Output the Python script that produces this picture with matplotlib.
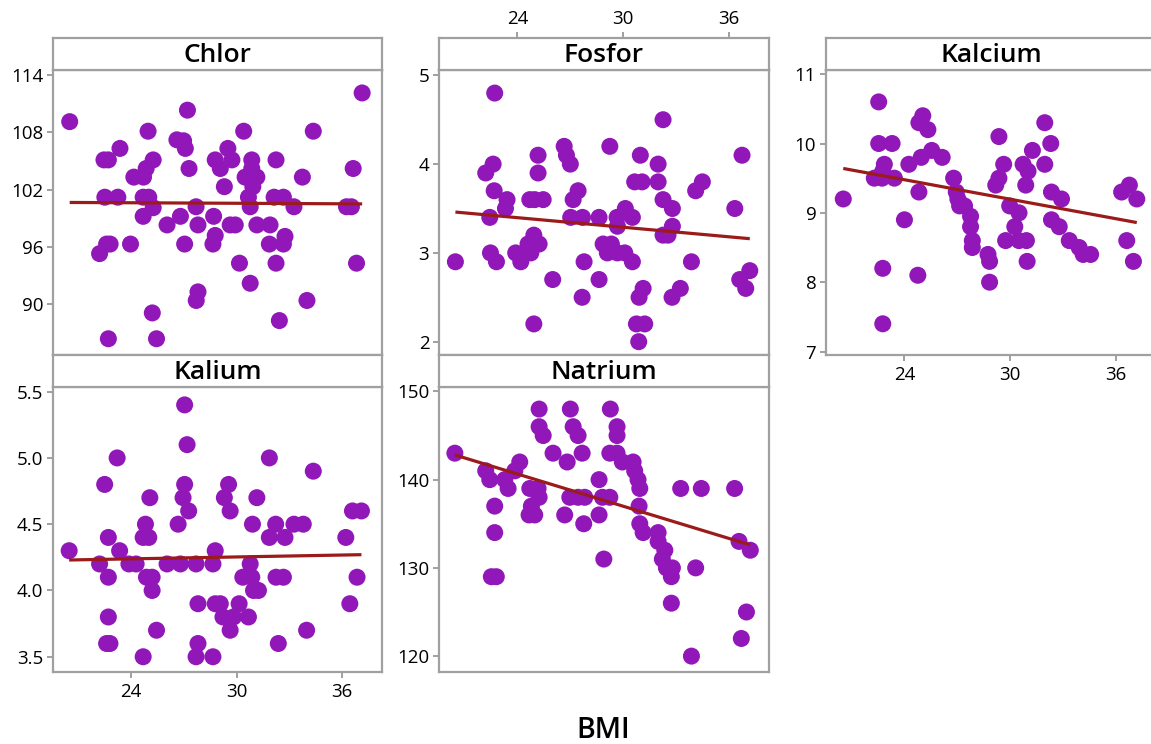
import numpy as np
import matplotlib
matplotlib.use("Agg")
import matplotlib.pyplot as plt

plt.rcParams['font.family'] = ['Open Sans', 'DejaVu Sans']

# ---------------- data ----------------
chlor_bmi = [20.5, 22.2, 22.45, 22.7, 22.5, 22.6, 22.8, 22.7, 23.36, 23.24, 23.96, 24.15, 24.7, 24.85,
             24.96, 25.25, 24.68, 25.0, 24.68, 25.25, 25.2, 25.44, 26.04, 26.6, 26.98, 27.08, 26.8,
             27.04, 27.2, 27.29, 27.69, 27.8, 27.8, 27.7, 28.69, 28.78, 28.65, 28.78, 29.07, 29.3,
             29.5, 29.73, 29.63, 29.92, 30.16, 30.4, 30.48, 30.67, 30.77, 30.86, 30.86, 30.92, 31.15,
             31.15, 30.77, 31.9, 31.86, 32.24, 32.24, 32.13, 32.66, 32.43, 32.75, 32.66, 33.26, 33.74,
             34.0, 34.36, 36.25, 36.53, 36.63, 36.82, 37.14]
chlor_val = [109.1, 95.3, 105.1, 105.1, 101.2, 96.3, 96.3, 86.4, 106.3, 101.2, 96.3, 103.3, 103.3, 104.2,
             108.1, 105.1, 101.2, 101.2, 99.2, 100.1, 89.1, 86.4, 98.3, 107.2, 107.1, 106.3, 99.2,
             96.3, 110.3, 104.2, 100.2, 98.3, 91.3, 90.4, 99.2, 97.2, 96.3, 105.1, 104.2, 102.3,
             106.3, 105.1, 98.3, 98.3, 94.3, 108.1, 103.3, 101.2, 100.2, 105.1, 104.2, 102.3, 103.3,
             98.3, 92.2, 98.3, 96.3, 105.1, 94.3, 101.2, 101.2, 88.3, 97.1, 96.3, 100.2, 103.3,
             90.4, 108.1, 100.2, 100.2, 104.2, 94.3, 112.1]

fosfor_bmi = [20.48, 22.2, 22.62, 22.71, 22.68, 22.43, 22.47, 22.81, 23.41, 23.32, 23.9, 24.19, 24.7,
              24.98, 25.46, 25.17, 25.17, 24.93, 24.6, 25.23, 24.76, 24.93, 26.0, 26.65, 26.78, 27.0,
              27.44, 27.16, 27.02, 27.69, 27.78, 27.67, 28.63, 28.63, 28.86, 29.33, 29.1, 29.24,
              29.65, 29.67, 29.67, 30.09, 30.12, 30.52, 30.52, 30.65, 31.07, 30.97, 30.9, 31.13,
              30.75, 31.22, 30.88, 31.98, 31.98, 32.26, 32.26, 32.79, 32.79, 32.26, 32.54, 32.77,
              33.24, 33.87, 34.11, 34.49, 36.33, 36.74, 36.61, 36.95, 37.18]
fosfor_val = [2.9, 3.9, 4.0, 4.8, 3.7, 3.4, 3.0, 2.9, 3.6, 3.5, 3.0, 2.9, 3.6,
              3.6, 3.6, 4.1, 3.9, 3.2, 3.1, 3.1, 3.0, 2.2, 2.7, 4.2, 4.1, 4.0,
              3.7, 3.6, 3.4, 3.4, 2.9, 2.5, 3.4, 2.7, 3.1, 3.1, 3.0, 4.2,
              3.4, 3.3, 3.0, 3.0, 3.5, 3.4, 2.9, 3.8, 3.8, 4.1, 2.5, 2.6,
              2.2, 2.2, 2.0, 4.0, 3.8, 4.5, 3.6, 3.5, 3.3, 3.2, 3.2, 2.5,
              2.6, 2.9, 3.7, 3.8, 3.5, 4.1, 2.7, 2.6, 2.8]

kalcium_bmi = [20.53, 22.54, 22.54, 23.3, 22.29, 22.73, 22.86, 22.77, 23.43, 22.77, 22.77, 24.0, 24.25,
               24.82, 25.04, 25.33, 24.95, 25.55, 24.82, 24.76, 26.14, 26.79, 26.94, 27.03, 27.13,
               27.41, 27.75, 27.75, 27.85, 27.85, 28.74, 28.83, 28.83, 29.18, 29.36, 29.36, 29.63,
               29.74, 29.97, 30.26, 30.5, 30.5, 30.92, 30.73, 31.01, 30.88, 30.96, 31.26, 31.96,
               32.3, 31.96, 32.34, 32.91, 32.34, 32.78, 33.35, 33.91, 34.14, 34.56, 36.32, 36.76,
               36.61, 37.18, 36.99]
kalcium_val = [9.2, 10.6, 10.0, 10.0, 9.5, 9.5, 9.7, 9.6, 9.5, 8.2, 7.4, 8.9, 9.7,
               10.3, 10.4, 10.2, 9.8, 9.9, 9.3, 8.1, 9.8, 9.5, 9.3, 9.2, 9.1,
               9.1, 8.95, 8.8, 8.6, 8.5, 8.4, 8.3, 8.0, 9.4, 9.5, 10.1, 9.7,
               8.6, 9.1, 8.8, 9.0, 8.6, 8.6, 9.7, 9.6, 9.4, 8.3, 9.9, 10.3,
               10.0, 9.7, 9.3, 9.2, 8.9, 8.8, 8.6, 8.5, 8.4, 8.4, 9.3, 9.4,
               8.6, 9.2, 8.3]

kalium_bmi = [20.47, 22.2, 22.49, 22.7, 22.7, 22.7, 22.6, 22.79, 23.2, 23.34, 23.87, 24.28, 24.68, 24.81,
              24.68, 25.0, 25.06, 24.87, 25.19, 25.19, 25.44, 26.04, 26.67, 26.8, 26.95, 27.04, 27.18,
              27.04, 27.27, 27.69, 27.8, 27.8, 27.69, 28.65, 28.65, 28.78, 28.78, 29.07, 29.22, 29.63,
              29.82, 29.3, 29.54, 29.63, 30.14, 30.35, 30.67, 30.77, 30.86, 30.96, 31.24, 30.9, 31.15,
              31.86, 31.86, 32.22, 32.24, 32.66, 32.75, 32.37, 33.26, 33.79, 33.98, 34.36, 36.21,
              36.44, 36.59, 37.1, 36.85]
kalium_val = [4.3, 4.2, 4.8, 4.4, 4.1, 3.8, 3.6, 3.6, 5.0, 4.3, 4.2, 4.2, 3.5, 4.5,
              4.4, 4.4, 4.7, 4.1, 4.1, 4.0, 3.7, 4.2, 4.5, 4.2, 4.7, 4.8, 5.1,
              5.4, 4.6, 4.2, 3.9, 3.6, 3.5, 3.5, 4.2, 4.3, 3.9, 3.9, 3.8, 3.7,
              3.8, 4.7, 4.8, 4.6, 3.9, 4.1, 3.8, 4.2, 4.1, 4.0, 4.0, 4.5, 4.7,
              5.0, 4.4, 4.5, 4.1, 4.1, 4.4, 3.6, 4.5, 4.5, 3.7, 4.9, 4.4,
              3.9, 4.6, 4.6, 4.1]

natrium_bmi = [20.45, 22.2, 22.43, 22.71, 22.71, 22.52, 22.8, 23.28, 23.47, 23.85, 24.13, 24.7, 25.17,
               25.23, 24.79, 24.66, 24.98, 25.23, 25.23, 25.46, 26.02, 26.68, 26.82, 27.0, 27.16,
               27.44, 27.67, 26.97, 27.44, 27.82, 27.76, 28.63, 28.63, 28.82, 29.24, 28.9, 29.27,
               29.65, 29.65, 29.24, 29.65, 29.95, 30.56, 30.65, 30.84, 30.94, 30.9, 30.94, 31.13,
               31.98, 31.98, 32.36, 32.22, 32.45, 32.79, 32.73, 32.73, 33.26, 34.11, 33.87, 34.43,
               36.32, 36.57, 37.21, 36.99, 36.7]
natrium_val = [143, 141, 140, 137, 134, 129, 129, 140, 139, 141, 142, 139, 139,
               138, 137, 136, 136, 148, 146, 145, 143, 136, 142, 148, 146,
               145, 143, 138, 138, 138, 135, 140, 136, 138, 138, 131, 148,
               146, 145, 143, 143, 142, 142, 141, 140, 139, 137, 135, 134,
               134, 133, 132, 131, 130, 130, 129, 126, 139, 130, 120, 139,
               139, 133, 132, 125, 122]

# regression lines: value at the lowest and highest BMI
fit_start = [100.65, 3.46, 9.64, 4.23, 142.8]
fit_end = [100.5, 3.16, 8.86, 4.27, 132.6]

panel_names = ["Chlor", "Fosfor", "Kalcium", "Kalium", "Natrium"]
panel_x = [chlor_bmi, fosfor_bmi, kalcium_bmi, kalium_bmi, natrium_bmi]
panel_y = [chlor_val, fosfor_val, kalcium_val, kalium_val, natrium_val]
panel_ylim = [(84.7, 114.5), (1.85, 5.06), (6.95, 11.06), (3.385, 5.535), (118.2, 150.5)]
panel_yticks = [[90, 96, 102, 108, 114], [2, 3, 4, 5], [7, 8, 9, 10, 11],
                [3.5, 4.0, 4.5, 5.0, 5.5], [120, 130, 140, 150]]
panel_yfmt = ["{:.0f}", "{:.0f}", "{:.0f}", "{:.1f}", "{:.0f}"]
panel_xaxis = [None, 'top', 'bottom', 'bottom', None]
x_ticks = [24, 30, 36]
x_label = "BMI"

# ---------------- layout (pixels) ----------------
W, H = 1151, 744
boxes = [(53, 382, 70, 355), (439, 769, 70, 355), (826, 1156, 70, 355),
         (53, 382, 387, 672), (439, 769, 387, 672)]
strip_h = 32
XLIM = (19.55, 38.27)

point_color = '#9217B9'
line_color = '#9B1A1A'
frame_color = '#A0A0A0'
tick_fs = 13.5

fig = plt.figure(figsize=(W / 100, H / 100), dpi=100)

def frac(l, r, t, b):
    return [l / W, 1 - b / H, (r - l) / W, (b - t) / H]

for i, name in enumerate(panel_names):
    l, r, t, b = boxes[i]
    ax = fig.add_axes(frac(l, r, t, b))
    x = np.array(panel_x[i], dtype=float)
    y = np.array(panel_y[i], dtype=float)
    ax.scatter(x, y, s=150, color=point_color, edgecolors='none', zorder=3, clip_on=False)
    ax.plot([x.min(), x.max()], [fit_start[i], fit_end[i]], color=line_color, lw=2.3,
            zorder=4, solid_capstyle='butt')
    ax.set_xlim(*XLIM)
    ax.set_ylim(*panel_ylim[i])
    ax.set_yticks(panel_yticks[i])
    ax.set_yticklabels([panel_yfmt[i].format(v) for v in panel_yticks[i]])
    for sp in ax.spines.values():
        sp.set_color(frame_color)
        sp.set_linewidth(1.6)
    ax.tick_params(axis='both', colors=frame_color, labelcolor='black', labelsize=tick_fs,
                   length=4, width=1.4, direction='out', pad=3)
    if panel_xaxis[i] == 'bottom':
        ax.set_xticks(x_ticks)
        ax.set_xticklabels([str(v) for v in x_ticks])
        ax.tick_params(axis='x', pad=4)
    else:
        ax.set_xticks([])

    # strip
    sax = fig.add_axes(frac(l, r, t - strip_h, t))
    sax.set_xlim(*XLIM)
    sax.set_yticks([])
    for sp in sax.spines.values():
        sp.set_color(frame_color)
        sp.set_linewidth(1.6)
    if panel_xaxis[i] == 'top':
        sax.xaxis.tick_top()
        sax.set_xticks(x_ticks)
        sax.set_xticklabels([str(v) for v in x_ticks])
        sax.tick_params(axis='x', colors=frame_color, labelcolor='black', labelsize=tick_fs,
                        length=4, width=1.4, direction='out', pad=3)
    else:
        sax.set_xticks([])
    sax.text(0.5, 0.45, name, ha='center', va='center', fontsize=19,
             fontweight='semibold', transform=sax.transAxes)

fig.text(603 / W, 1 - 730 / H, x_label, ha='center', va='center', fontsize=20.5,
         fontweight='semibold')

fig.savefig('out.png', dpi=100)
